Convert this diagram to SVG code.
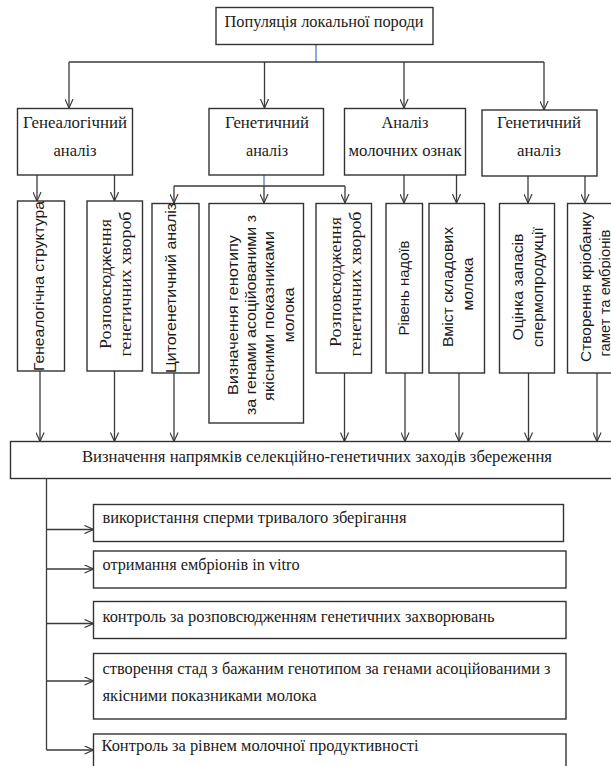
<svg xmlns="http://www.w3.org/2000/svg" width="611" height="766" viewBox="0 0 611 766">
<style>
.box{fill:#fff;stroke:#333;stroke-width:1.4}
.ln{fill:none;stroke:#3a3a3a;stroke-width:1.3}
.bl{fill:none;stroke:#4a7cc9;stroke-width:1.3}
.ar{marker-end:url(#arr)}
.t{font-family:"Liberation Serif","DejaVu Serif Condensed","DejaVu Serif",serif;font-size:16px;fill:#1a1a1a}
.c{text-anchor:middle}
.vs{font-family:"Liberation Serif","DejaVu Serif Condensed","DejaVu Serif",serif;font-size:16px;fill:#1a1a1a;text-anchor:middle;dominant-baseline:central}
.vn{font-family:"Liberation Sans","Noto Sans",Arial,sans-serif;font-size:15px;fill:#1a1a1a;text-anchor:middle;dominant-baseline:central}
</style>
<defs>
<marker id="arr" viewBox="0 0 10 10" refX="10" refY="5" markerWidth="10" markerHeight="9" markerUnits="userSpaceOnUse" orient="auto">
<path d="M0,0.5 L10,5 L0,9.5" fill="none" stroke="#3a3a3a" stroke-width="1.3"/>
</marker>
</defs>
<rect width="611" height="766" fill="#fff"/>

<g id="connectors">
<line class="bl" x1="316" y1="44.5" x2="316" y2="62"/>
<line class="ln" x1="69" y1="62" x2="544" y2="62"/>
<line class="ln ar" x1="69" y1="62" x2="69" y2="108"/>
<line class="ln ar" x1="264.5" y1="62" x2="264.5" y2="108"/>
<line class="ln ar" x1="404" y1="62" x2="404" y2="108"/>
<line class="ln ar" x1="544" y1="62" x2="544" y2="110"/>
<line class="ln ar" x1="37" y1="175" x2="37" y2="201"/>
<line class="ln ar" x1="114.5" y1="175" x2="114.5" y2="201"/>
<line class="bl" x1="264" y1="175" x2="264" y2="186"/>
<line class="ln" x1="174" y1="186" x2="345" y2="186"/>
<line class="ln ar" x1="174" y1="186" x2="174" y2="203"/>
<line class="ln ar" x1="264" y1="186" x2="264" y2="203"/>
<line class="ln ar" x1="345" y1="186" x2="345" y2="203"/>
<line class="ln ar" x1="404" y1="175" x2="404" y2="203"/>
<line class="ln ar" x1="456.5" y1="175" x2="456.5" y2="203"/>
<line class="ln ar" x1="528" y1="176" x2="528" y2="203"/>
<line class="ln ar" x1="585" y1="176" x2="585" y2="203"/>
<line class="ln ar" x1="40" y1="371" x2="40" y2="441.5"/>
<line class="ln ar" x1="114.5" y1="371" x2="114.5" y2="441.5"/>
<line class="ln ar" x1="174" y1="373" x2="174" y2="441.5"/>
<line class="ln ar" x1="344.5" y1="373" x2="344.5" y2="441.5"/>
<line class="ln ar" x1="405" y1="373" x2="405" y2="441.5"/>
<line class="ln ar" x1="459" y1="373" x2="459" y2="441.5"/>
<line class="ln ar" x1="528.5" y1="373" x2="528.5" y2="441.5"/>
<line class="ln ar" x1="597" y1="373" x2="597" y2="441.5"/>
<line class="ln" x1="46.5" y1="478.5" x2="46.5" y2="750"/>
<line class="ln ar" x1="46.5" y1="529.5" x2="93.5" y2="529.5"/>
<line class="ln ar" x1="46.5" y1="569" x2="93.5" y2="569"/>
<line class="ln ar" x1="46.5" y1="623.5" x2="93.5" y2="623.5"/>
<line class="ln ar" x1="46.5" y1="681" x2="93.5" y2="681"/>
<line class="ln ar" x1="46.5" y1="750" x2="93.5" y2="750"/>
</g>

<g id="n-top">
<rect class="box" x="216" y="7.5" width="217" height="37"/>
<text class="t c" x="324" y="27" textLength="199" lengthAdjust="spacingAndGlyphs">Популяція локальної породи</text>
</g>

<g id="n-geneal">
<rect class="box" x="17.5" y="108.5" width="115" height="66.5"/>
<text class="t c" x="75" y="128" textLength="104" lengthAdjust="spacingAndGlyphs">Генеалогічний</text>
<text class="t c" x="75" y="156" textLength="43" lengthAdjust="spacingAndGlyphs">аналіз</text>
</g>
<g id="n-genet1">
<rect class="box" x="209" y="108.5" width="114.5" height="66.5"/>
<text class="t c" x="267" y="128" textLength="84" lengthAdjust="spacingAndGlyphs">Генетичний</text>
<text class="t c" x="267" y="156" textLength="42" lengthAdjust="spacingAndGlyphs">аналіз</text>
</g>
<g id="n-milk">
<rect class="box" x="344.5" y="108.5" width="121" height="66.5"/>
<text class="t c" x="405" y="128" textLength="47" lengthAdjust="spacingAndGlyphs">Аналіз</text>
<text class="t c" x="405" y="156" textLength="113" lengthAdjust="spacingAndGlyphs">молочних ознак</text>
</g>
<g id="n-genet2">
<rect class="box" x="482" y="110" width="115" height="66"/>
<text class="t c" x="539" y="128" textLength="84" lengthAdjust="spacingAndGlyphs">Генетичний</text>
<text class="t c" x="539" y="156" textLength="44" lengthAdjust="spacingAndGlyphs">аналіз</text>
</g>

<g id="n-r1">
<rect class="box" x="17.5" y="201" width="47" height="170"/>
<text class="vn" transform="translate(38,286) rotate(-90)" textLength="170" lengthAdjust="spacingAndGlyphs">Генеалогічна структура</text>
</g>
<g id="n-r2">
<rect class="box" x="87" y="201" width="55.5" height="170"/>
<text class="vs" transform="translate(105,284) rotate(-90)" textLength="130" lengthAdjust="spacingAndGlyphs">Розповсюдження</text>
<text class="vs" transform="translate(125,284) rotate(-90)" textLength="145" lengthAdjust="spacingAndGlyphs">генетичних хвороб</text>
</g>
<g id="n-r3">
<rect class="box" x="152" y="203.5" width="47" height="169.5"/>
<text class="vn" transform="translate(170,288) rotate(-90)" textLength="170" lengthAdjust="spacingAndGlyphs">Цитогенетичний аналіз</text>
</g>
<g id="n-r4">
<rect class="box" x="209" y="203.5" width="94.5" height="219.5"/>
<text class="vn" transform="translate(232,315) rotate(-90)" textLength="160" lengthAdjust="spacingAndGlyphs">Визначення генотипу</text>
<text class="vn" transform="translate(250,315) rotate(-90)" textLength="200" lengthAdjust="spacingAndGlyphs">за генами асоційованими з</text>
<text class="vn" transform="translate(268,316) rotate(-90)" textLength="170" lengthAdjust="spacingAndGlyphs">якісними показниками</text>
<text class="vn" transform="translate(288,315) rotate(-90)" textLength="55" lengthAdjust="spacingAndGlyphs">молока</text>
</g>
<g id="n-r5">
<rect class="box" x="316" y="203.5" width="55.5" height="169.5"/>
<text class="vs" transform="translate(335,282) rotate(-90)" textLength="130" lengthAdjust="spacingAndGlyphs">Розповсюдження</text>
<text class="vs" transform="translate(355,284) rotate(-90)" textLength="145" lengthAdjust="spacingAndGlyphs">генетичних хвороб</text>
</g>
<g id="n-r6">
<rect class="box" x="386" y="203.5" width="36.5" height="169.5"/>
<text class="vn" transform="translate(403.5,288) rotate(-90)" textLength="95" lengthAdjust="spacingAndGlyphs">Рівень надоїв</text>
</g>
<g id="n-r7">
<rect class="box" x="429" y="203.5" width="55.5" height="169.5"/>
<text class="vn" transform="translate(447,287) rotate(-90)" textLength="120" lengthAdjust="spacingAndGlyphs">Вміст складових</text>
<text class="vn" transform="translate(467,284) rotate(-90)" textLength="53" lengthAdjust="spacingAndGlyphs">молока</text>
</g>
<g id="n-r8">
<rect class="box" x="499.5" y="203.5" width="55" height="169.5"/>
<text class="vn" transform="translate(517,287) rotate(-90)" textLength="107" lengthAdjust="spacingAndGlyphs">Оцінка запасів</text>
<text class="vn" transform="translate(537,287) rotate(-90)" textLength="120" lengthAdjust="spacingAndGlyphs">спермопродукції</text>
</g>
<g id="n-r9">
<rect class="box" x="567.5" y="203.5" width="60" height="169.5"/>
<text class="vn" transform="translate(585,287) rotate(-90)" textLength="150" lengthAdjust="spacingAndGlyphs">Створення кріобанку</text>
<text class="vn" transform="translate(604,293) rotate(-90)" textLength="127" lengthAdjust="spacingAndGlyphs">гамет та ембріонів</text>
</g>

<g id="n-dir">
<rect class="box" x="10.5" y="441.5" width="620" height="37"/>
<text class="t c" x="317" y="462" textLength="470" lengthAdjust="spacingAndGlyphs">Визначення напрямків селекційно-генетичних заходів збереження</text>
</g>

<g id="n-m1">
<rect class="box" x="93.5" y="504.5" width="470" height="37"/>
<text class="t" x="102.5" y="522.5" textLength="304" lengthAdjust="spacingAndGlyphs">використання сперми тривалого зберігання</text>
</g>
<g id="n-m2">
<rect class="box" x="93.5" y="551" width="472.5" height="37"/>
<text class="t" x="102.5" y="570" textLength="197" lengthAdjust="spacingAndGlyphs">отримання ембріонів in vitro</text>
</g>
<g id="n-m3">
<rect class="box" x="93.5" y="601.5" width="472.5" height="37"/>
<text class="t" x="102.5" y="622" textLength="392" lengthAdjust="spacingAndGlyphs">контроль за розповсюдженням генетичних захворювань</text>
</g>
<g id="n-m4">
<rect class="box" x="93.5" y="653.5" width="472.5" height="65.5"/>
<text class="t" x="102.5" y="674" textLength="448" lengthAdjust="spacingAndGlyphs">створення стад з бажаним генотипом за генами асоційованими з</text>
<text class="t" x="102.5" y="701" textLength="214" lengthAdjust="spacingAndGlyphs">якісними показниками молока</text>
</g>
<g id="n-m5">
<rect class="box" x="93.5" y="734" width="472.5" height="40"/>
<text class="t" x="101.5" y="751" textLength="317" lengthAdjust="spacingAndGlyphs">Контроль за рівнем молочної продуктивності</text>
</g>
</svg>
